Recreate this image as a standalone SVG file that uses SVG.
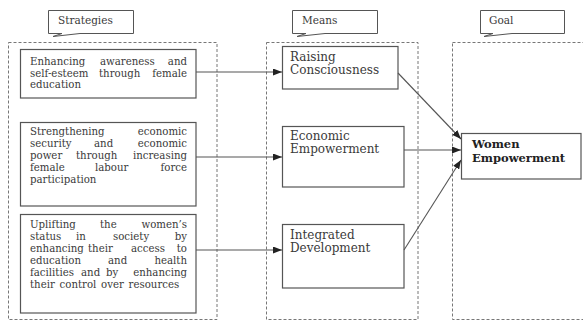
<svg xmlns="http://www.w3.org/2000/svg" width="583" height="321" viewBox="0 0 583 321">
  <style>
    .frame { fill: none; stroke: #777; stroke-width: 1; stroke-dasharray: 3 2; }
    .box { fill: #fff; stroke: #555; stroke-width: 1.2; }
    .callout { fill: #fff; stroke: #555; stroke-width: 1; }
    .t { font-family: "DejaVu Serif", "Liberation Serif", serif; font-size: 10.2px; fill: #3a3a3a; word-spacing: 1.5px; }
    .m { font-family: "DejaVu Serif", "Liberation Serif", serif; font-size: 12px; fill: #3a3a3a; }
    .lbl { font-family: "DejaVu Serif", "Liberation Serif", serif; font-size: 10.5px; fill: #3a3a3a; }
    .goal { font-family: "DejaVu Serif", "Liberation Serif", serif; font-size: 11.5px; font-weight: bold; fill: #222; }
    .e { text-anchor: end; }
    .link { fill: none; stroke: #555; stroke-width: 1.1; marker-end: url(#arrow); }
  </style>
  <defs>
    <marker id="arrow" viewBox="0 0 10 10" refX="10" refY="5" markerWidth="9" markerHeight="7" markerUnits="userSpaceOnUse" orient="auto" preserveAspectRatio="none">
      <path d="M0,0 L10,5 L0,10 Z" fill="#222"/>
    </marker>
  </defs>

  <rect width="583" height="321" fill="#fff"/>

  <!-- column frames -->
  <g id="strategies-frame">
    <rect class="frame" x="8.5" y="42.5" width="208.5" height="277"/>
    <path class="callout" d="M48.5,10.5 H133.5 V33.5 H80 L53,36.5 L62,33.5 H48.5 Z"/>
    <text class="lbl" x="58" y="24">Strategies</text>
  </g>
  <g id="means-frame">
    <rect class="frame" x="266.5" y="42.5" width="151.5" height="277"/>
    <path class="callout" d="M292.5,10.5 H377.5 V33.5 H325 L297,36.5 L306,33.5 H292.5 Z"/>
    <text class="lbl" x="302" y="24">Means</text>
  </g>
  <g id="goal-frame">
    <rect class="frame" x="452.5" y="42.5" width="140" height="277"/>
    <path class="callout" d="M480.5,10.5 H564.5 V33.5 H512 L484,36.5 L493,33.5 H480.5 Z"/>
    <text class="lbl" x="489" y="24">Goal</text>
  </g>

  <!-- strategies -->
  <g id="strategy-education">
    <rect class="box" x="20.5" y="49.5" width="175.5" height="48.5"/>
    <text class="t" y="65"><tspan x="30">Enhancing</tspan><tspan x="100">awareness</tspan></text>
    <text class="t e" x="187" y="65">and</text>
    <text class="t" y="76.5"><tspan x="30">self-esteem</tspan><tspan x="99">through</tspan></text>
    <text class="t e" x="187" y="76.5">female</text>
    <text class="t" x="30" y="88">education</text>
  </g>
  <g id="strategy-economic">
    <rect class="box" x="20.5" y="122.5" width="175.5" height="83.5"/>
    <text class="t" x="30" y="135">Strengthening</text>
    <text class="t e" x="187" y="135">economic</text>
    <text class="t" y="147"><tspan x="30">security</tspan><tspan x="94">and</tspan></text>
    <text class="t e" x="187" y="147">economic</text>
    <text class="t" y="159"><tspan x="30">power</tspan><tspan x="76">through</tspan></text>
    <text class="t e" x="187" y="159">increasing</text>
    <text class="t" y="171"><tspan x="30">female</tspan><tspan x="95">labour</tspan></text>
    <text class="t e" x="187" y="171">force</text>
    <text class="t" x="30" y="183">participation</text>
  </g>
  <g id="strategy-status">
    <rect class="box" x="20.5" y="214.5" width="175.5" height="98.5"/>
    <text class="t" y="228"><tspan x="30">Uplifting</tspan><tspan x="100">the</tspan></text>
    <text class="t e" x="187" y="228">women’s</text>
    <text class="t" y="240"><tspan x="30">status</tspan><tspan x="76">in</tspan><tspan x="113">society</tspan></text>
    <text class="t e" x="187" y="240">by</text>
    <text class="t" y="252"><tspan x="30">enhancing</tspan><tspan x="88">their</tspan><tspan x="131">access</tspan></text>
    <text class="t e" x="187" y="252">to</text>
    <text class="t" y="264"><tspan x="30">education</tspan><tspan x="108">and</tspan></text>
    <text class="t e" x="187" y="264">health</text>
    <text class="t" y="276"><tspan x="30">facilities</tspan><tspan x="81">and</tspan><tspan x="106">by</tspan></text>
    <text class="t e" x="187" y="276">enhancing</text>
    <text class="t" x="30" y="288">their control over resources</text>
  </g>

  <!-- means -->
  <g id="means-consciousness">
    <rect class="box" x="282.5" y="46.5" width="115.5" height="42.5"/>
    <text class="m" x="290" y="61">Raising</text>
    <text class="m" x="290" y="74">Consciousness</text>
  </g>
  <g id="means-economic">
    <rect class="box" x="282.5" y="126.5" width="121.5" height="60.5"/>
    <text class="m" x="290" y="140">Economic</text>
    <text class="m" x="290" y="153">Empowerment</text>
  </g>
  <g id="means-integrated">
    <rect class="box" x="282.5" y="224.5" width="121.5" height="63.5"/>
    <text class="m" x="290" y="239">Integrated</text>
    <text class="m" x="290" y="252">Development</text>
  </g>

  <!-- goal -->
  <g id="goal-women">
    <rect class="box" x="461.5" y="133.5" width="119.5" height="45.5"/>
    <text class="goal" x="472" y="148">Women</text>
    <text class="goal" x="472" y="162">Empowerment</text>
  </g>

  <!-- connectors -->
  <g id="connectors">
    <line class="link" x1="196" y1="72" x2="282" y2="72"/>
    <line class="link" x1="196" y1="157" x2="282" y2="157"/>
    <line class="link" x1="196" y1="250" x2="282" y2="250"/>
    <line class="link" x1="398" y1="73" x2="461" y2="139"/>
    <line class="link" x1="404" y1="150" x2="461" y2="150"/>
    <line class="link" x1="404" y1="250" x2="461" y2="160"/>
  </g>
</svg>
